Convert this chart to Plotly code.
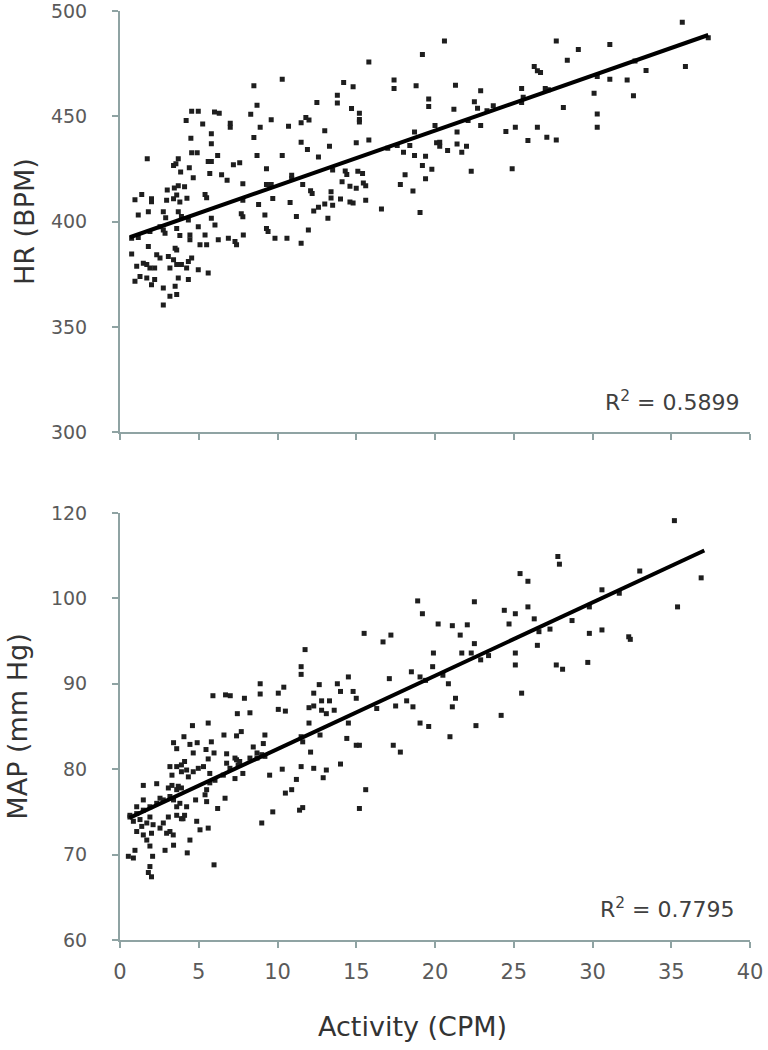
import plotly.graph_objects as go

# ---------------- data ----------------
# Top panel: heart rate (BPM) vs activity (CPM)
hr_points = [
    (19.2,479.4),(15.8,475.8),(10.3,467.6),(8.5,464.5),(14.2,466),(14.8,464),(17.4,467.3),(17.4,463.2),
    (18.8,464.5),(19.6,458.2),(19.6,454.7),(13.8,460),(13.8,456.3),(12.5,456.6),(8.7,455.3),(8.3,451),
    (4.55,452.4),(4.97,452.4),(6.0,452),(6.3,451.5),(4.2,448),(5.25,446.4),(7.0,446.7),(7.0,444.8),
    (9.6,448.4),(10.7,445.3),(11.8,449.5),(11.5,447),(12.0,448.3),(14.7,453.7),(15.2,451.5),(15.2,448.5),
    (15.2,447.3),(13.0,443.2),(8.9,444.8),(5.8,441.7),(5.8,437),(4.5,439.6),(8.5,440),(11.5,437.7),
    (11.9,434.3),(13.3,435.8),(15.0,437.4),(15.8,438.8),(4.55,432.7),(4.9,432.7),(1.73,429.9),(6.2,431.4),
    (5.8,428.6),(5.6,428.6),(8.7,431.4),(10.3,431.4),(12.6,430.7),(3.7,429.9),(3.4,426.7),(3.55,427.5),
    (4.4,425.6),(3.85,423.6),(5.7,422.8),(6.45,422.3),(6.8,419.7),(7.2,427),(7.6,428),(4.65,420.8),
    (7.8,418),(9.3,425.1),(9.3,417.6),(9.6,417.6),(10.9,422),(10.9,420.4),(11.6,417.6),(12.1,414.7),
    (12.2,413.4),(13.5,424.5),(14.3,424.1),(14.4,422.4),(15.1,423.9),(15.4,422.8),(14.1,418.9),(14.6,416.8),
    (15.0,415.9),(15.6,417),(15.45,418.3),(13.4,414.2),(13.4,411.2),(14.0,410.8),(14.6,409.3),(14.8,408.8),
    (15.6,410.2),(12.6,406.8),(13.0,408.4),(13.5,407.8),(12.3,405),(10.8,409.1),(9.7,411),(8.8,408.2),
    (7.8,410.2),(7.7,403.8),(7.8,402.3),(5.4,412.9),(5.5,411.3),(3.7,417),(4.1,416.6),(3.45,416),
    (3.0,415),(3.6,412.7),(3.4,410.9),(4.25,411.1),(3.8,409.3),(2.96,410.2),(2.75,404.7),(1.38,412.9),
    (0.95,410.4),(2.0,410.9),(2.0,409.5),(1.8,404.7),(1.16,403.2),(3.7,404.7),(3.9,402.4),(9.2,403.2),
    (11.2,402.4),(16.6,406),(19.05,404.4),(17.8,417.6),(18.6,414.5),(18.1,422.3),(19.4,420.4),(19.2,426.7),
    (19.8,424.9),(18.7,431.4),(19.4,431),(18.0,433),(18.4,436.2),(18.7,442.5),(17.0,434.9),(17.6,436.2),
    (20.1,437.4),(20.0,445.6),
    (2.9,401.8),(5.8,401.6),(13.2,401.6),(0.74,392.1),(1.16,392.5),(1.9,395.3),(2.54,397.6),(2.75,396),
    (2.86,394.5),(3.6,396.8),(4.34,400.8),(3.8,393.4),(4.44,393.7),(4.44,391.4),(4.97,397.6),(5.4,393.7),
    (6.03,398.4),(6.24,391.4),(6.88,392.1),(7.3,390.6),(7.4,389),(7.83,393.7),(9.3,396.8),(9.4,395.3),
    (9.84,392.1),(10.6,392.1),(11.5,389.8),(11.96,396),(5.08,389),(5.5,389),
    (0.74,384.6),(1.06,378.8),(1.48,380.3),(1.7,379.6),(1.9,378),(2.2,378),(1.8,388.2),(2.33,384.3),
    (2.54,382.7),(3.07,383.5),(3.4,381.9),(3.17,378),(3.6,379.6),(3.9,379.6),(4.34,381.1),(4.23,378),
    (3.5,387.4),(3.7,373.3),(4.34,372.5),(4.97,377.2),(5.6,375.6),(0.95,371.7),(1.27,374),(1.7,373.3),
    (2.0,370.1),(2.2,372.5),(2.75,368.5),(3.17,364.6),(3.5,369.3),(3.6,365.4),(2.75,360.4),(3.6,386.6),
    (4.55,382.7),
    (35.7,494.7),(37.35,487.3),(35.9,473.6),(31.1,484.1),(29.1,481.7),(27.7,485.7),(28.4,476.6),(26.3,473.6),
    (26.5,471.6),(26.7,470.8),(20.6,485.7),(21.3,464.8),(22.9,462.1),(25.5,463.2),(21.2,453.4),(22.5,456.9),
    (22.7,453.8),(23.3,452.7),(23.7,455),(25.5,456.6),(25.6,459),(27.0,463.2),(27.2,462.6),(30.3,468.9),
    (31.1,467.6),(32.2,467.3),(33.4,471.8),(32.7,476.3),(30.1,461),(32.6,459.8),(28.15,454.2),(30.3,451.1),
    (30.3,444.8),(20.3,437.7),(20.3,435.8),(21.4,442.5),(20.8,433.8),(21.4,436.9),(21.7,433),(22.0,435.8),
    (22.9,445.6),(22.1,448),(24.5,442.8),(25.1,444.8),(26.5,444.8),(25.9,438.5),(27.1,440.1),(27.7,438.8),
    (22.3,423.9),(24.9,425.1),
]
hr_activity = [p[0] for p in hr_points]
hr_bpm = [p[1] for p in hr_points]
hr_fit_x = [0.63, 37.35]
hr_fit_y = [392.6, 488.6]
hr_r2 = "0.5899"

# Bottom panel: mean arterial pressure vs activity (CPM)
map_points = [
    (18.9,99.7),(19.2,98.2),(20.2,97.0),(15.5,95.9),(16.7,94.9),(17.2,95.7),(19.9,93.6),(19.85,92.0),
    (18.5,91.4),(11.75,94.0),(11.5,92.0),(11.5,91.1),(17.1,90.6),(14.5,90.8),(12.65,89.9),(12.3,88.9),
    (13.8,90.0),(14.0,89.1),(14.8,89.1),(15.0,88.3),(8.9,90.0),(8.9,88.8),(10.4,89.6),(10.05,88.9),
    (5.9,88.6),(6.7,88.7),(7.0,88.6),(7.9,88.3),(7.45,86.5),(8.25,86.6),(10.05,87.0),(10.5,86.8),
    (12.0,87.2),(12.3,87.4),(12.8,88.0),(13.3,88.0),(12.8,86.9),(13.1,86.5),(13.6,86.9),(16.3,87.1),
    (17.5,87.4),(18.2,88.0),(18.6,87.3),(19.05,90.8),(19.4,90.4),
    (4.6,85.1),(5.6,85.4),(6.6,84.0),(7.4,83.9),(7.7,84.4),(9.2,84.0),(4.06,83.8),(3.4,83.1),
    (3.6,82.4),(4.44,82.9),(4.9,83.1),(4.65,81.9),(4.1,80.9),(4.23,79.9),(3.9,80.5),(5.8,83.2),
    (5.46,82.3),(5.97,81.9),(5.6,81.2),(6.77,81.8),(7.3,81.3),(7.6,80.9),(8.46,82.6),(9.1,83.0),
    (9.0,81.7),(8.7,81.3),(14.4,83.6),(15.0,82.8),(15.2,82.8),(12.1,82.0),(12.0,85.4),(12.7,84.0),
    (14.5,85.4),(11.5,83.8),(11.6,83.2),(17.35,82.8),(17.8,82.0),(19.05,85.4),(19.6,85.0),(14.0,80.6),
    (15.6,77.6),(15.2,75.4),(9.5,79.3),(10.3,80.0),(11.5,80.3),(12.3,80.1),(13.1,79.9),(12.9,79.0),
    (11.2,78.8),(10.5,77.2),(10.9,77.6),(9.7,75.0),(11.4,75.2),(11.6,75.5),(9.0,73.7),(6.67,76.6),
    (6.2,75.4),(7.3,78.9),(7.8,79.5),(7.5,80.5),(1.48,78.1),(2.33,78.3),(3.3,78.1),(3.7,78.0),
    (3.9,77.8),(3.6,77.6),(4.8,76.4),(5.4,77.0),(5.5,76.2),(4.23,75.6),(4.1,74.6),(4.0,74.2),
    (4.87,73.9),(5.08,72.9),(5.6,73.1),(4.44,71.7),(4.27,70.2),(3.4,71.1),(2.86,70.5),(2.07,69.8),
    (0.95,70.5),(0.53,69.8),(0.85,69.6),(1.9,68.6),(1.8,67.9),(2.0,67.4),(5.97,68.8),
    (1.9,71.0),(1.7,71.7),(2.0,72.5),(1.48,72.3),(1.06,72.7),(1.38,73.3),(1.7,73.7),(2.1,73.5),
    (2.54,73.1),(2.96,72.5),(3.07,74.4),(3.6,74.6),(3.9,74.2),(3.38,72.3),(3.17,72.7),(2.75,73.7),
    (1.9,74.4),(1.27,74.1),(0.85,73.9),(0.63,74.4),(1.06,74.8),(1.48,75.2),(1.9,75.6),(2.33,76.0),
    (2.54,76.6),(2.75,76.4),(3.17,76.8),(3.07,77.8),(3.4,76.4),(3.6,75.6),(3.8,76.0),(1.48,76.4),
    (1.06,75.6),(0.63,74.6),
    (3.17,80.3),(3.3,79.3),(3.6,80.3),(3.9,79.7),(4.34,79.1),(4.65,79.7),(4.97,80.1),(5.3,80.3),
    (5.7,79.5),(5.7,78.4),(5.5,77.6),(6.03,78.7),(6.56,79.3),(6.77,80.7),(6.98,80.1),(7.4,81.1),
    (8.25,81.3),(8.7,81.9),(9.2,81.5),
    (35.2,109.1),(36.9,102.4),(35.4,99.0),(33.0,103.2),(31.7,100.6),(30.6,101.0),(29.8,99.0),(27.8,104.9),
    (27.9,104.0),(25.4,102.9),(25.9,102.0),(25.9,99.0),(25.1,98.2),(24.4,98.6),(22.5,99.6),(21.1,96.8),
    (22.05,96.9),(21.6,95.7),(24.7,97.0),(26.3,97.6),(27.3,96.4),(26.6,96.1),(28.7,97.4),(29.8,95.9),
    (30.6,96.3),(32.3,95.5),(32.4,95.2),(26.5,94.5),(25.1,93.6),(25.1,92.2),(27.7,92.2),(28.1,91.7),
    (29.7,92.5),(25.5,88.9),(24.2,86.3),(22.5,94.7),(21.7,93.6),(22.3,93.6),(22.9,92.8),(23.4,93.3),
    (20.5,91.0),(20.85,90.0),(21.3,88.3),(21.1,87.3),(20.95,83.8),(22.6,85.1),
]
map_activity = [p[0] for p in map_points]
map_mmhg = [p[1] for p in map_points]
map_fit_x = [0.6, 37.1]
map_fit_y = [74.3, 105.6]
map_r2 = "0.7795"

x_ticks = [0, 5, 10, 15, 20, 25, 30, 35, 40]
hr_ticks = [300, 350, 400, 450, 500]
map_tickvals = [60, 70, 80, 90, 100, 110]
map_ticktext = ["60", "70", "80", "90", "100", "120"]
x_title = "Activity (CPM)"

# ---------------- figure ----------------
FONT = "'DejaVu Sans', sans-serif"
AXIS_COLOR = "#8fa3a3"
YTICK_FONT = dict(family=FONT, size=19, color="#5a5a5a")
XTICK_FONT = dict(family=FONT, size=21, color="#5a5a5a")
TITLE_FONT = dict(family=FONT, size=27, color="#333333")

fig = go.Figure()
marker = dict(symbol="square", size=5, color="#1e1e1e", line=dict(width=0))

fig.add_trace(go.Scatter(x=hr_activity, y=hr_bpm, mode="markers", marker=marker,
                         xaxis="x", yaxis="y", showlegend=False, name="HR"))
fig.add_trace(go.Scatter(x=hr_fit_x, y=hr_fit_y, mode="lines", line=dict(color="black", width=4),
                         xaxis="x", yaxis="y", showlegend=False, name="HR fit"))
fig.add_trace(go.Scatter(x=map_activity, y=map_mmhg, mode="markers", marker=marker,
                         xaxis="x2", yaxis="y2", showlegend=False, name="MAP"))
fig.add_trace(go.Scatter(x=map_fit_x, y=map_fit_y, mode="lines", line=dict(color="black", width=4),
                         xaxis="x2", yaxis="y2", showlegend=False, name="MAP fit"))

common_x = dict(range=[0, 40], tickvals=x_ticks, showgrid=False, zeroline=False,
                showline=True, linecolor=AXIS_COLOR, linewidth=2,
                ticks="outside", ticklen=6, tickwidth=1.5, tickcolor=AXIS_COLOR,
                tickfont=XTICK_FONT, ticklabelstandoff=6, automargin=False,
                ticklabeloverflow="allow")
common_y = dict(showgrid=False, zeroline=False, showline=True, linecolor=AXIS_COLOR, linewidth=2,
                ticks="outside", ticklen=6, tickwidth=1.5, tickcolor=AXIS_COLOR,
                tickfont=YTICK_FONT, ticklabelstandoff=21, automargin=False,
                ticklabeloverflow="allow")

fig.update_layout(
    width=768, height=1050,
    margin=dict(l=120, r=18, t=11, b=110),
    paper_bgcolor="white", plot_bgcolor="white",
    xaxis=dict(common_x, domain=[0, 1], anchor="y", showticklabels=False),
    yaxis=dict(common_y, domain=[0.5465, 1], anchor="x", range=[300, 500], tickvals=hr_ticks,
               title=dict(text="HR (BPM)", font=TITLE_FONT, standoff=8)),
    xaxis2=dict(common_x, domain=[0, 1], anchor="y2"),
    yaxis2=dict(common_y, domain=[0, 0.4597], anchor="x2", range=[60, 110],
                tickvals=map_tickvals, ticktext=map_ticktext,
                title=dict(text="MAP (mm Hg)", font=TITLE_FONT, standoff=15)),
    annotations=[
        dict(text=x_title, xref="paper", yref="paper", x=0.465, y=-0.0936,
             xanchor="center", yanchor="middle", showarrow=False, font=TITLE_FONT),
        dict(text="R<sup>2</sup> = " + hr_r2, xref="x domain", yref="y domain", x=0.988, y=0.075,
             xanchor="right", yanchor="middle", showarrow=False,
             font=dict(family=FONT, size=22, color="#404040")),
        dict(text="R<sup>2</sup> = " + map_r2, xref="x2 domain", yref="y2 domain", x=0.98, y=0.075,
             xanchor="right", yanchor="middle", showarrow=False,
             font=dict(family=FONT, size=22, color="#404040")),
    ],
)

# the page's default 8px body margin would shift the chart; remove it
fig.write_html("out.html", config={"displayModeBar": False},
               post_script="document.body.style.margin='0px';")
